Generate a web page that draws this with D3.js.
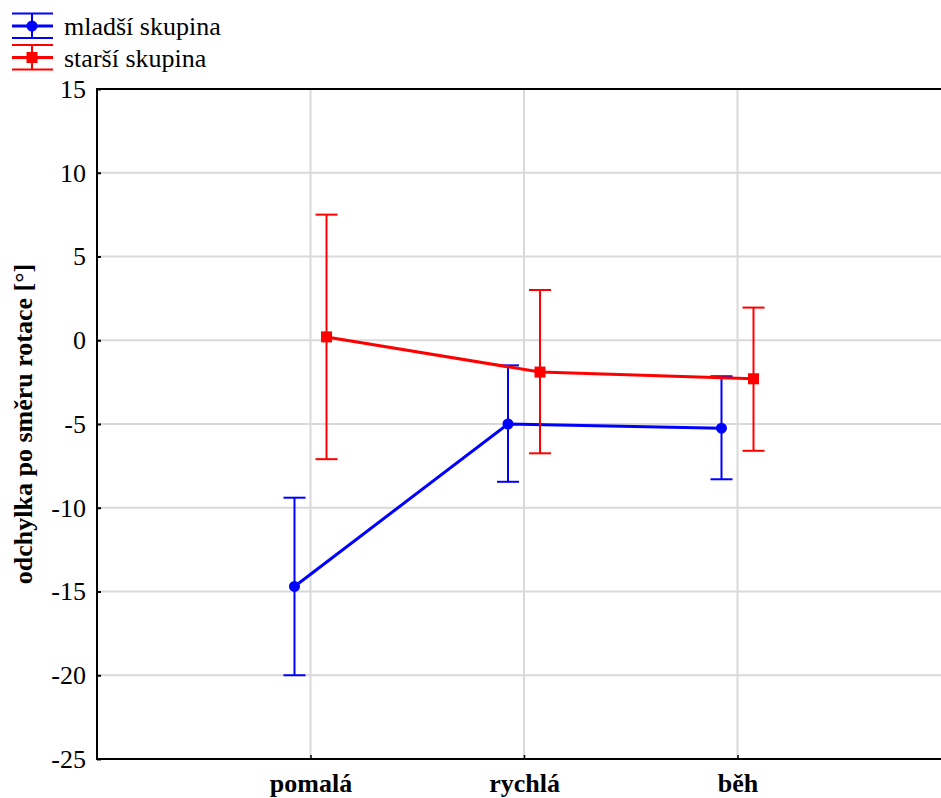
<!DOCTYPE html>
<html><head><meta charset="utf-8">
<script src="https://cdn.jsdelivr.net/npm/d3@7"></script>
<style>body{margin:0;background:#fff;} svg{display:block;} svg text{font-family:"Liberation Serif","Times New Roman",Times,serif;}</style>
</head><body>
<script>
const categories = ["pomalá", "rychlá", "běh"];
const seriesNames = ["mladší skupina", "starší skupina"];
const youngMean = [-14.7, -5.0, -5.25];
const youngLow = [-20.0, -8.45, -8.3];
const youngHigh = [-9.4, -1.5, -2.15];
const oldMean = [0.2, -1.9, -2.3];
const oldLow = [-7.1, -6.75, -6.6];
const oldHigh = [7.5, 3.0, 1.95];
const yTicks = [15, 10, 5, 0, -5, -10, -15, -20, -25];
const colors = ["#0000ff", "#ff0000"];

(function () {
const W = 941, H = 798;
const mL = 97, mT = 89, mB = 759, mR = 951;
const FS = "26px";
const svg = d3.select("body").append("svg").attr("width", W).attr("height", H);

const x = d3.scaleLinear().domain([0, 4]).range([mL, mR]);
const y = d3.scaleLinear().domain([-25, 15]).range([mB, mT]);

// grid
svg.append("g").selectAll("line").data(yTicks.slice(1, -1)).join("line")
  .attr("x1", mL).attr("x2", mR).attr("y1", d => y(d)).attr("y2", d => y(d))
  .attr("stroke", "#d9d9d9").attr("stroke-width", 2);
svg.append("g").selectAll("line").data(categories).join("line")
  .attr("x1", (d, i) => x(i + 1)).attr("x2", (d, i) => x(i + 1)).attr("y1", mT).attr("y2", mB)
  .attr("stroke", "#d9d9d9").attr("stroke-width", 2);

// axes
const yAxis = d3.axisLeft(y).tickValues(yTicks).tickSize(-4).tickPadding(11).tickFormat(d3.format("d"));
const gy = svg.append("g").attr("transform", `translate(${mL},0)`).call(yAxis);
gy.attr("font-family", null).attr("font-size", null);
gy.select(".domain").remove();
gy.selectAll("line").attr("stroke", "#000").attr("stroke-width", 2);
gy.selectAll("text").style("font-size", FS).attr("fill", "#000")
  .text(d => d < 0 ? "-" + Math.abs(d) : d);

const xAxis = d3.axisBottom(x).tickValues([1, 2, 3]).tickSize(-4).tickPadding(15)
  .tickFormat(d => categories[d - 1]);
const gx = svg.append("g").attr("transform", `translate(0,${mB})`).call(xAxis);
gx.attr("font-family", null).attr("font-size", null);
gx.select(".domain").remove();
gx.selectAll("line").attr("stroke", "#000").attr("stroke-width", 1.5);
gx.selectAll("text").style("font-size", FS).style("font-weight", "bold").attr("fill", "#000");

svg.append("line").attr("x1", mL).attr("x2", mL).attr("y1", mT - 1).attr("y2", mB + 1).attr("stroke", "#000").attr("stroke-width", 2);
svg.append("line").attr("x1", mL - 1).attr("x2", mR).attr("y1", mT).attr("y2", mT).attr("stroke", "#000").attr("stroke-width", 2);
svg.append("line").attr("x1", mL - 1).attr("x2", mR).attr("y1", mB).attr("y2", mB).attr("stroke", "#000").attr("stroke-width", 2);

// axis title
svg.append("text").attr("transform", `translate(32,${(mT + mB) / 2}) rotate(-90)`)
  .attr("text-anchor", "middle").style("font-size", FS).style("font-weight", "bold")
  .text("odchylka po směru rotace [°]");

const series = [
  {mean: youngMean, low: youngLow, high: youngHigh, off: -0.075, shape: "circle"},
  {mean: oldMean, low: oldLow, high: oldHigh, off: 0.075, shape: "square"}
];
const capW = 11;
series.forEach((s, k) => {
  const g = svg.append("g");
  const c = colors[k];
  const px = i => x(i + 1 + s.off);
  g.append("path").datum(s.mean)
    .attr("d", d3.line().x((d, i) => px(i)).y(d => y(d)))
    .attr("fill", "none").attr("stroke", c).attr("stroke-width", 3);
  s.mean.forEach((m, i) => {
    g.append("line").attr("x1", px(i)).attr("x2", px(i)).attr("y1", y(s.low[i])).attr("y2", y(s.high[i])).attr("stroke", c).attr("stroke-width", 2);
    [s.low[i], s.high[i]].forEach(v => g.append("line").attr("x1", px(i) - capW).attr("x2", px(i) + capW).attr("y1", y(v)).attr("y2", y(v)).attr("stroke", c).attr("stroke-width", 2));
    if (s.shape === "circle") g.append("circle").attr("cx", px(i)).attr("cy", y(m)).attr("r", 5.5).attr("fill", c);
    else g.append("rect").attr("x", px(i) - 5.5).attr("y", y(m) - 5.5).attr("width", 11).attr("height", 11).attr("fill", c);
  });
});

// legend
seriesNames.forEach((n, k) => {
  const ly = 26 + k * 31.5;
  const g = svg.append("g");
  const c = colors[k];
  g.append("line").attr("x1", 12).attr("x2", 53).attr("y1", ly).attr("y2", ly).attr("stroke", c).attr("stroke-width", 3);
  [ly - 12.5, ly + 12].forEach(v => g.append("line").attr("x1", 12).attr("x2", 53).attr("y1", v).attr("y2", v).attr("stroke", c).attr("stroke-width", 2));
  g.append("line").attr("x1", 32).attr("x2", 32).attr("y1", ly - 12.5).attr("y2", ly + 12).attr("stroke", c).attr("stroke-width", 2);
  if (k === 0) g.append("circle").attr("cx", 32).attr("cy", ly).attr("r", 5.5).attr("fill", c);
  else g.append("rect").attr("x", 26.5).attr("y", ly - 5.5).attr("width", 11).attr("height", 11).attr("fill", c);
  g.append("text").attr("x", 64).attr("y", ly + 9).style("font-size", FS).text(n);
});
})();
</script>
</body></html>
